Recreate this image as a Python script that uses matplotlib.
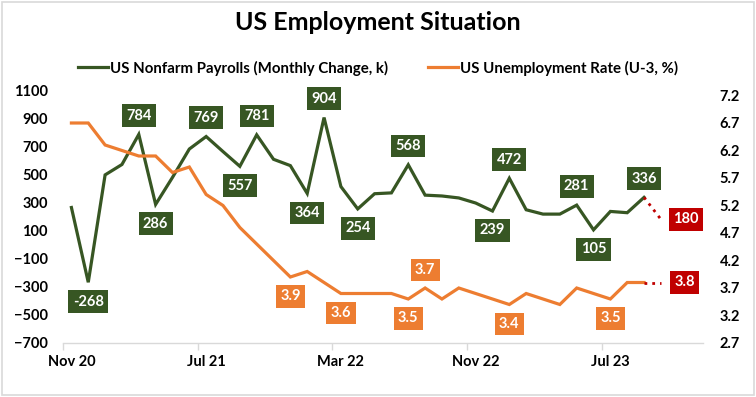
import numpy as np
import pandas as pd
import matplotlib
matplotlib.use('Agg')
import matplotlib.pyplot as plt
from matplotlib.patches import Rectangle

plt.rcParams['font.family'] = ['Lato', 'DejaVu Sans']

# ## Data (monthly, Nov 2020 - Sep 2023, plus Oct 2023 forecast)
months = pd.date_range('2020-11-01', periods=38, freq='MS')
payrolls = [264, -268, 496, 570, 784, 286, 478, 680, 769, 662, 557, 781, 607, 562,
            364, 904, 413, 254, 362, 368, 568, 352, 346, 332, 296, 239, 472, 248,
            217, 217, 281, 105, 236, 227, 336]
unemployment = [6.7, 6.7, 6.3, 6.2, 6.1, 6.1, 5.8, 5.9, 5.4, 5.2, 4.8, 4.5, 4.2, 3.9,
                4.0, 3.8, 3.6, 3.6, 3.6, 3.6, 3.5, 3.7, 3.5, 3.7, 3.6, 3.5, 3.4, 3.6,
                3.5, 3.4, 3.7, 3.6, 3.5, 3.8, 3.8]
payrolls_fcst = 180
unemployment_fcst = 3.8

# which points get a label, and on which side
payroll_labels = [(1, 'below'), (4, 'above'), (5, 'below'), (8, 'above'), (10, 'below'),
                  (11, 'above'), (14, 'below'), (15, 'above'), (17, 'below'), (20, 'above'),
                  (25, 'below'), (26, 'above'), (30, 'above'), (31, 'below'), (34, 'above')]
unemp_labels = [(13, 'below'), (16, 'below'), (20, 'below'), (21, 'above'),
                (26, 'below'), (32, 'below')]

green = '#375623'
orange = '#ED7D31'
red = '#C00000'
grey = '#D9D9D9'

x = np.arange(len(payrolls))
x_fcst = len(payrolls)

fig = plt.figure(figsize=(7.56, 3.97), dpi=100)
fig.patches.append(Rectangle((0.002, 0.004), 0.995, 0.992, transform=fig.transFigure,
                             fill=False, edgecolor=grey, linewidth=1.2))
ax = fig.add_axes([63 / 756, 1 - 343 / 397, 640 / 756, 253 / 397])
ax2 = ax.twinx()

ax.plot(x, payrolls, color=green, linewidth=2.3, solid_joinstyle='miter', label='US Nonfarm Payrolls (Monthly Change, k)')
ax.plot([x[-1], x_fcst], [payrolls[-1], payrolls_fcst], color=red, linewidth=2, linestyle=(0, (1, 1.8)))
ax2.plot(x, unemployment, color=orange, linewidth=2.3, solid_joinstyle='miter', label='US Unemployment Rate (U-3, %)')
ax2.plot([x[-1], x_fcst], [unemployment[-1], unemployment_fcst], color=red, linewidth=2, linestyle=(0, (1, 1.8)))

label_kw = dict(textcoords='offset points', ha='center', va='center', color='white',
                fontsize=10.5, fontweight='bold')
for i, side in payroll_labels:
    dy = 13.5 if side == 'above' else -14
    ax.annotate(str(payrolls[i]), (x[i], payrolls[i]), xytext=(0, dy),
                bbox=dict(boxstyle='square,pad=0.3', fc=green, ec='none'), **label_kw)
for i, side in unemp_labels:
    dy = 13 if side == 'above' else -14
    ax2.annotate('%.1f' % unemployment[i], (x[i], unemployment[i]), xytext=(0, dy),
                 bbox=dict(boxstyle='square,pad=0.3', fc=orange, ec='none'), **label_kw)
ax.annotate(str(payrolls_fcst), (x_fcst, payrolls_fcst), xytext=(18, 0),
            bbox=dict(boxstyle='square,pad=0.3', fc=red, ec='none'), **label_kw)
ax2.annotate('%.1f' % unemployment_fcst, (x_fcst, unemployment_fcst), xytext=(17, 0),
             bbox=dict(boxstyle='square,pad=0.3', fc=red, ec='none'), **label_kw)

# axes ranges and ticks
ax.set_xlim(-0.5, len(months) - 0.5)
ax.set_ylim(-700, 1100)
ax.set_yticks(np.arange(-700, 1101, 200))
ax2.set_ylim(2.7, 7.3)
ax2.set_yticks(np.round(np.arange(2.7, 7.21, 0.5), 1))
ax2.set_yticklabels(['%.1f' % v for v in np.arange(2.7, 7.21, 0.5)])

ax.set_xticks(np.arange(0, len(months), 8))
ax.set_xticklabels([m.strftime('%b %y') for m in months[::8]])
ax.set_xticks(np.arange(-0.5, len(months), 8), minor=True)
ax.tick_params(axis='x', which='major', length=0, pad=9, labelsize=10.5)
ax.tick_params(axis='x', which='minor', length=5, color=grey, width=1)
ax.tick_params(axis='y', length=0, pad=11, labelsize=10.5)
ax2.tick_params(axis='y', length=0, pad=12, labelsize=10.5)
for a in (ax, ax2):
    for lab in a.get_xticklabels() + a.get_yticklabels():
        lab.set_fontweight('bold')
    for s in a.spines.values():
        s.set_visible(False)
ax.spines['bottom'].set_visible(True)
ax.spines['bottom'].set_color(grey)
ax.spines['bottom'].set_linewidth(1)

fig.text(0.5, 1 - 22 / 397, 'US Employment Situation', ha='center', va='center',
         fontsize=18, fontweight='bold')
handles = ax.get_lines()[:1] + ax2.get_lines()[:1]
fig.legend(handles, [h.get_label() for h in handles], loc='center', ncol=2,
           bbox_to_anchor=(0.5, 1 - 68 / 397), frameon=False,
           handlelength=2.0, handletextpad=0.15, columnspacing=2.6,
           prop=dict(weight='bold', size=10.8))

fig.savefig('out.png', dpi=100)
